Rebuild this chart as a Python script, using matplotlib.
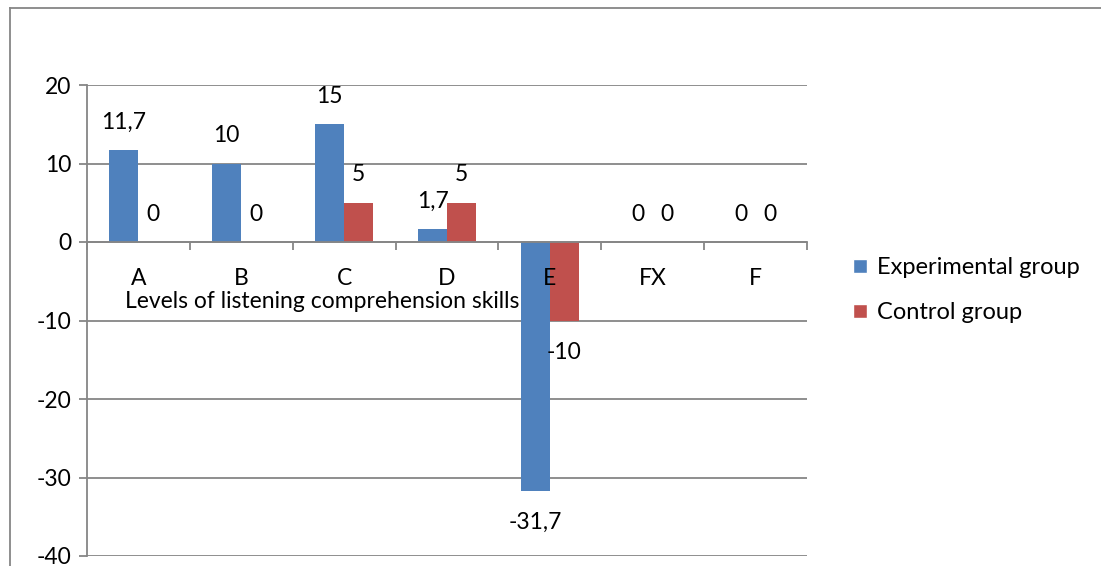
import matplotlib.pyplot as plt
import numpy as np
from matplotlib.lines import Line2D

plt.rcParams['font.family'] = ['Lato', 'DejaVu Sans']
plt.rcParams['axes.unicode_minus'] = False

categories = ['A', 'B', 'C', 'D', 'E', 'FX', 'F']
experimental = [11.7, 10, 15, 1.7, -31.7, 0, 0]
control = [0, 0, 5, 5, -10, 0, 0]
series_names = ['Experimental group', 'Control group']
axis_title = 'Levels of listening comprehension skills'

blue = '#4F81BD'
red = '#C0504D'
grey = '#868686'
fs = 16.5

fig = plt.figure(figsize=(11.01, 5.66), dpi=100)
ax = fig.add_axes([87 / 1101, 1 - 556 / 566, (807 - 87) / 1101, (556 - 85) / 566])

x = np.arange(len(categories))
width = 0.282
bars1 = ax.bar(x - width / 2, experimental, width, color=blue, label=series_names[0], zorder=2)
bars2 = ax.bar(x + width / 2, control, width, color=red, label=series_names[1], zorder=2)

ax.set_xlim(-0.5, len(categories) - 0.5)
ax.set_ylim(-40, 20)
ax.set_yticks(np.arange(-40, 21, 10))
ax.grid(axis='y', color=grey, linewidth=1.3, zorder=0)
ax.set_axisbelow(True)

for s in ['top', 'right']:
    ax.spines[s].set_visible(False)
ax.spines['left'].set_color(grey)
ax.spines['left'].set_linewidth(1.3)
ax.spines['bottom'].set_position(('data', 0))
ax.spines['bottom'].set_color(grey)
ax.spines['bottom'].set_linewidth(1.3)

ax.tick_params(axis='y', length=6, width=1.3, color=grey, labelsize=fs, pad=5)
ax.set_xticks(x)
ax.set_xticklabels([])
ax.tick_params(axis='x', which='major', length=0)
ax.set_xticks(np.arange(-0.5, len(categories), 1), minor=True)
ax.tick_params(axis='x', which='minor', length=6, width=1.3, color=grey)

# category labels drawn on top of the bars
for xi, c in zip(x, categories):
    ax.annotate(c, (xi, 0), xytext=(0, -26), textcoords='offset points',
                ha='center', va='center', fontsize=fs, zorder=5)

# data labels, comma as decimal separator
def fmt(v):
    return ('%g' % v).replace('.', ',')

for bars in [bars1, bars2]:
    for b in bars:
        v = b.get_height()
        xc = b.get_x() + b.get_width() / 2
        if v >= 0:
            ax.annotate(fmt(v), (xc, v), xytext=(0, 20), textcoords='offset points',
                        ha='center', va='center', fontsize=fs, zorder=5)
        else:
            ax.annotate(fmt(v), (xc, v), xytext=(0, -23), textcoords='offset points',
                        ha='center', va='center', fontsize=fs, zorder=5)

fig.text(322 / 1101, 1 - 302 / 566, axis_title, ha='center', va='center', fontsize=fs)

handles = [Line2D([0], [0], marker='s', color='w', markerfacecolor=c, markersize=9.5, linestyle='')
           for c in [blue, red]]
fig.legend(handles, series_names, loc='center left', bbox_to_anchor=(826 / 1101, 1 - 290 / 566),
           frameon=False, fontsize=17, handletextpad=0.15, labelspacing=1.0, handlelength=1.1)

# outer chart border
fig.add_artist(Line2D([9.5 / 1101, 9.5 / 1101], [0, 1 - 8 / 566], color=grey, linewidth=1.3))
fig.add_artist(Line2D([9.5 / 1101, 1], [1 - 8 / 566, 1 - 8 / 566], color=grey, linewidth=1.3))

fig.savefig('out.png', dpi=100)
